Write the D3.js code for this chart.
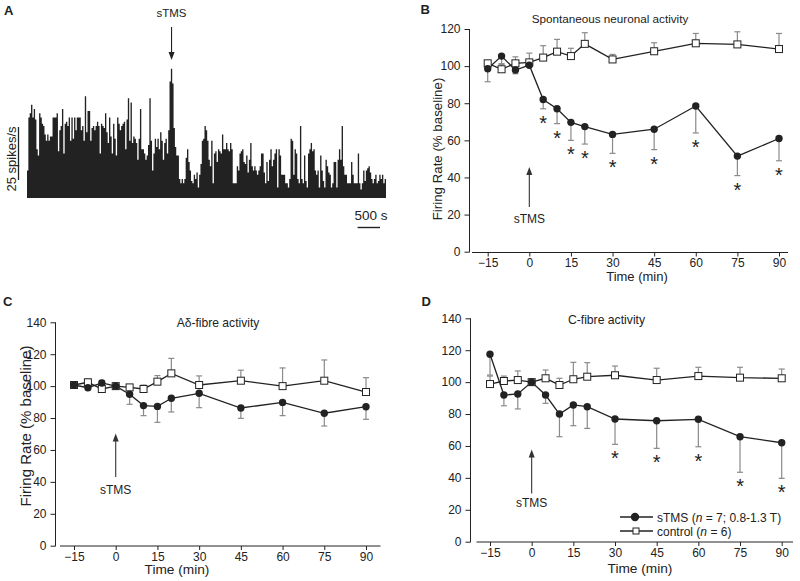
<!DOCTYPE html>
<html><head><meta charset="utf-8">
<script src="https://cdn.jsdelivr.net/npm/d3@7"></script>
<style>
body{margin:0;background:#fff}
svg{display:block}
text{font-family:"Liberation Sans",Arial,Helvetica,sans-serif;fill:#222}
</style>
</head><body>
<svg id="c" width="800" height="581"></svg>
<script>
// ---------- Panel A: firing-rate histogram (30 s bins, spikes/s) ----------
const histBinSec = 30;
const histRates = [
 13,38,40,44,38,42,37,23,20,40, 38,35,34,30,27,30,27,29,29,38,
 38,38,40,22,32,34,42,21,35,36, 34,38,27,38,28,38,32,38,38,38,
 32,34,27,48,31,41,41,27,33,34, 32,34,36,34,21,35,34,33,40,31,
 26,38,29,21,35,28,20,38,35,32, 34,35,36,23,37,47,27,45,26,29,
 28,26,18,28,42,23,23,21,18,20,
 25,47,27,13,21,28,24,28,23,31, 27,18,26,28,21,32,55,61,54,33,
 24,20,20,9,7,9,7,9,19,23, 17,13,8,7,11,9,12,5,11,16,
 27,28,34,32,27,18,15,27,7,21, 22,17,23,22,21,30,23,23,26,23,
 22,26,23,7,7,7,15,13,21,22, 23,17,16,20,12,18,26,15,13,15,
 13,11,13,15,21,21,12,7,17,8,
 18,23,15,18,21,23,5,23,20,11, 11,11,7,7,5,9,28,27,11,23,
 21,9,7,34,9,7,20,8,5,21, 23,26,22,23,13,11,13,5,20,13,
 8,5,18,15,12,11,5,7,17,17, 5,18,23,18,34,15,11,11,7,7,
 7,17,11,7,7,7,21,7,4,7, 13,8,13,14,15,12,9,7,9,11,
 7,8,11,9,11,7,9
];
const stimTimeSec = 3225;
const scaleRate = 25;     // spikes/s
const scaleTimeSec = 500; // s

// ---------- Panels B-D: time course (% baseline) ----------
const times = [-15,-10,-5,0,5,10,15,20,30,45,60,75,90];
const xTickLabels = [-15,0,15,30,45,60,75,90];

const bStim    = [98.6,105.4,97.9,100.5,82,77,69.7,67.4,63.2,66,78.5,51.5,61];
const bStimErr = [7,4.5,2,0,5,8,9.7,9.4,10.2,11,14.5,10.5,12];
const bCtrl    = [101.5,98.3,101.5,102,104.6,107.8,105.4,112,103.6,108,112.3,111.7,109.2];
const bCtrlErr = [1,3,3.5,5,6.4,6.6,4.2,6,2.7,4.6,5.3,6.8,8.4];
const bSig     = [5,10,15,20,30,45,60,75,90];

const cStim    = [100.7,99,102,100,94.9,87.8,87.3,92.4,95.5,86.3,89.8,83,87.1];
const cStimErr = [2,1.4,2,0,6.3,6.3,10,8.6,9,6.5,8.3,8,7.9];
const cCtrl    = [100.7,102.4,98.2,100,99.2,98.2,102.8,108,100.7,103.4,100,103.4,96.3];
const cCtrlErr = [1.7,2.1,5.4,0,1.5,2.5,3.8,9.4,5.7,6.6,11.4,13,9];
const cSig     = [];

const dStim    = [117.5,91.9,92.6,100,91.9,80,85.7,84.6,76.9,75.8,76.7,65.8,62];
const dStimErr = [13.1,6.7,9.4,0,5.2,14.2,13,13.6,15.9,17.3,17.2,22.3,22.3];
const dCtrl    = [98.8,100.7,101.3,100,102.4,98.2,101.8,103.4,104.3,101.3,103.8,102.8,102.4];
const dCtrlErr = [5,3.1,5.7,0,5.2,4.2,10.6,8.8,5.8,7.4,5.5,6.5,5.8];
const dSig     = [30,45,60,75,90];

const legendLabels = [["sTMS (", "n", " = 7; 0.8-1.3 T)"], ["control (", "n", " = 6)"]];

const svg = d3.select("#c");
const INK = "#222", ERR = "#8a8a8a";

function arrowDown(g, x, yTail, yTip, color) {
  g.append("line").attr("x1", x).attr("x2", x).attr("y1", yTail).attr("y2", yTip - 6)
    .attr("stroke", color).attr("stroke-width", 1.1);
  g.append("path").attr("d", `M${x},${yTip} L${x-3},${yTip-8} L${x+3},${yTip-8} Z`).attr("fill", color);
}
function arrowUp(g, x, yTip, yTail, color) {
  g.append("line").attr("x1", x).attr("x2", x).attr("y1", yTip + 6).attr("y2", yTail)
    .attr("stroke", color).attr("stroke-width", 1.1);
  g.append("path").attr("d", `M${x},${yTip} L${x-3},${yTip+8} L${x+3},${yTip+8} Z`).attr("fill", color);
}

// ---------- Panel A ----------
(function () {
  const g = svg.append("g");
  const n = histRates.length;
  const x = d3.scaleLinear().domain([0, n * histBinSec]).range([27, 386]);
  const y = d3.scaleLinear().domain([0, scaleRate]).range([198, 145]);
  const pts = histRates.map((d, i) => ({t: i * histBinSec, v: d}));
  pts.push({t: n * histBinSec, v: histRates[n - 1]});
  const area = d3.area().curve(d3.curveStepAfter).x(d => x(d.t)).y0(y(0)).y1(d => y(d.v));
  g.append("path").datum(pts).attr("d", area).attr("fill", INK);
  // stimulus arrow
  const sx = x(stimTimeSec);
  arrowDown(g, sx, 27, 60, INK);
  g.append("text").attr("x", sx).attr("y", 17).attr("text-anchor", "middle")
    .attr("font-size", 11.5).text("sTMS");
  // vertical scale bar
  const vb = y(0) - y(scaleRate);
  g.append("line").attr("x1", 18.5).attr("x2", 18.5).attr("y1", 180).attr("y2", 180 - vb)
    .attr("stroke", INK).attr("stroke-width", 1.3);
  g.append("text").attr("transform", "translate(16,159) rotate(-90)").attr("text-anchor", "middle")
    .attr("font-size", 13).text(scaleRate + " spikes/s");
  // horizontal scale bar
  const hb = x(scaleTimeSec) - x(0);
  g.append("line").attr("x1", 380 - hb).attr("x2", 380).attr("y1", 227.5).attr("y2", 227.5)
    .attr("stroke", INK).attr("stroke-width", 1.4);
  g.append("text").attr("x", 371).attr("y", 220).attr("text-anchor", "middle")
    .attr("font-size", 13.5).text(scaleTimeSec + " s");
  g.append("text").attr("x", 4).attr("y", 15).attr("font-size", 13).attr("font-weight", "bold").text("A");
})();

// ---------- Line panels ----------
function linePanel(p) {
  const g = svg.append("g");
  const x = d3.scaleLinear().domain([-15, 90]).range([p.x0, p.x1]);
  const y = d3.scaleLinear().domain([0, p.ymax]).range([p.yb, p.yt]);

  const ya = g.append("g").attr("transform", `translate(${p.ax},0)`)
    .call(d3.axisLeft(y).tickValues(d3.range(0, p.ymax + 1, 20)).tickSize(5).tickPadding(4));
  ya.select(".domain").remove();
  g.append("line").attr("x1", p.ax).attr("x2", p.ax).attr("y1", y(p.ymax)).attr("y2", y(0) + 0.5)
    .attr("stroke", INK).attr("stroke-width", 1);
  const xa = g.append("g").attr("transform", `translate(0,${p.ay})`)
    .call(d3.axisBottom(x).tickValues(xTickLabels).tickSize(4).tickPadding(p.xpad));
  xa.select(".domain").remove();
  g.append("line").attr("x1", p.axs).attr("x2", p.axe).attr("y1", p.ay).attr("y2", p.ay)
    .attr("stroke", INK).attr("stroke-width", 1);
  g.selectAll(".tick line").attr("stroke", INK);
  g.selectAll(".tick text").attr("font-size", 12).attr("fill", INK)
    .attr("font-family", '"Liberation Sans",Arial,sans-serif');

  // titles
  g.append("text").attr("x", p.tx).attr("y", p.ty).attr("text-anchor", "middle")
    .attr("font-size", p.tfs).text(p.title);
  g.append("text").attr("x", p.xlx).attr("y", p.xly).attr("text-anchor", "middle")
    .attr("font-size", p.xlfs).text("Time (min)");
  if (p.ylfs) {
    g.append("text").attr("transform", `translate(${p.ylx},${p.yly}) rotate(-90)`)
      .attr("text-anchor", "middle").attr("font-size", p.ylfs).text("Firing Rate (% baseline)");
  }
  g.append("text").attr("x", p.lx).attr("y", p.ly).attr("font-size", 13).attr("font-weight", "bold").text(p.letter);

  // sTMS arrow
  arrowUp(g, x(0), p.arTip, p.arTail, "#333");
  g.append("text").attr("x", x(0)).attr("y", p.arText).attr("text-anchor", "middle")
    .attr("font-size", 12).text("sTMS");

  const stim = times.map((t, i) => ({t, v: p.stim[i], e: p.stimErr[i]}));
  const ctrl = times.map((t, i) => ({t, v: p.ctrl[i], e: p.ctrlErr[i]}));

  // error bars: sTMS downward, control upward
  function errBars(data, dir) {
    const eg = g.append("g").attr("stroke", ERR).attr("stroke-width", 1.2).attr("fill", "none");
    data.filter(d => d.e > 0).forEach(d => {
      const yy = y(d.v + dir * d.e);
      eg.append("line").attr("x1", x(d.t)).attr("x2", x(d.t)).attr("y1", y(d.v)).attr("y2", yy);
      eg.append("line").attr("x1", x(d.t) - 3).attr("x2", x(d.t) + 3).attr("y1", yy).attr("y2", yy);
    });
  }
  errBars(ctrl, 1);
  errBars(stim, -1);

  const line = d3.line().x(d => x(d.t)).y(d => y(d.v));
  g.append("path").datum(ctrl).attr("d", line).attr("fill", "none").attr("stroke", INK).attr("stroke-width", 1.3);
  g.append("path").datum(stim).attr("d", line).attr("fill", "none").attr("stroke", INK).attr("stroke-width", 1.3);

  g.selectAll(".sq").data(ctrl).join("rect").attr("class", "sq")
    .attr("x", d => x(d.t) - 3.5).attr("y", d => y(d.v) - 3.5).attr("width", 7).attr("height", 7)
    .attr("fill", "#fff").attr("stroke", INK).attr("stroke-width", 1);
  g.selectAll(".ci").data(stim).join("circle").attr("class", "ci")
    .attr("cx", d => x(d.t)).attr("cy", d => y(d.v)).attr("r", 3.7).attr("fill", INK);

  // significance stars
  stim.filter(d => p.sig.includes(d.t)).forEach(d => {
    g.append("text").attr("x", x(d.t)).attr("y", y(d.v - d.e) + 21).attr("text-anchor", "middle")
      .attr("font-size", 20).text("*");
  });

  if (p.legend) {
    const lg = g.append("g");
    [0, 1].forEach(i => {
      const yy = p.legend.y + i * 14;
      lg.append("line").attr("x1", p.legend.x).attr("x2", p.legend.x + 33).attr("y1", yy).attr("y2", yy)
        .attr("stroke", INK).attr("stroke-width", 1.3);
      if (i === 0) lg.append("circle").attr("cx", p.legend.x + 15).attr("cy", yy).attr("r", 4.2).attr("fill", INK);
      else lg.append("rect").attr("x", p.legend.x + 13).attr("y", yy - 3).attr("width", 6).attr("height", 6)
        .attr("fill", "#fff").attr("stroke", INK);
      const t = lg.append("text").attr("x", p.legend.x + 37).attr("y", yy + 4.5).attr("font-size", 12);
      t.append("tspan").text(legendLabels[i][0]);
      t.append("tspan").attr("font-style", "italic").text(legendLabels[i][1]);
      t.append("tspan").text(legendLabels[i][2]);
    });
  }
}

linePanel({letter: "B", lx: 420.5, ly: 14,
  x0: 487.7, x1: 779, ymax: 120, yb: 251.7, yt: 29, ax: 469.5, ay: 252.5, axs: 472, axe: 788, xpad: 2,
  title: "Spontaneous neuronal activity", tx: 610, ty: 23, tfs: 11.7,
  xlx: 637, xly: 281, xlfs: 13, ylx: 442, yly: 149, ylfs: 13.3,
  arTip: 167, arTail: 207, arText: 223,
  stim: bStim, stimErr: bStimErr, ctrl: bCtrl, ctrlErr: bCtrlErr, sig: bSig});

linePanel({letter: "C", lx: 3, ly: 306,
  x0: 74, x1: 366, ymax: 140, yb: 545.7, yt: 322.3, ax: 55.5, ay: 546, axs: 60, axe: 380.5, xpad: 2,
  title: "A\u03b4-fibre activity", tx: 218, ty: 326.5, tfs: 12.1,
  xlx: 177, xly: 574, xlfs: 13.7, ylx: 30.5, yly: 426, ylfs: 15,
  arTip: 433.5, arTail: 477, arText: 493.5,
  stim: cStim, stimErr: cStimErr, ctrl: cCtrl, ctrlErr: cCtrlErr, sig: cSig});

linePanel({letter: "D", lx: 421.5, ly: 306,
  x0: 490, x1: 781.7, ymax: 140, yb: 541.7, yt: 318.3, ax: 470.5, ay: 542, axs: 476.5, axe: 793, xpad: 2.5,
  title: "C-fibre activity", tx: 606.5, ty: 323.5, tfs: 12.2,
  xlx: 640, xly: 573, xlfs: 13.7, ylfs: 0,
  arTip: 449.5, arTail: 493.5, arText: 507,
  stim: dStim, stimErr: dStimErr, ctrl: dCtrl, ctrlErr: dCtrlErr, sig: dSig,
  legend: {x: 620, y: 517}});
</script>
</body></html>
